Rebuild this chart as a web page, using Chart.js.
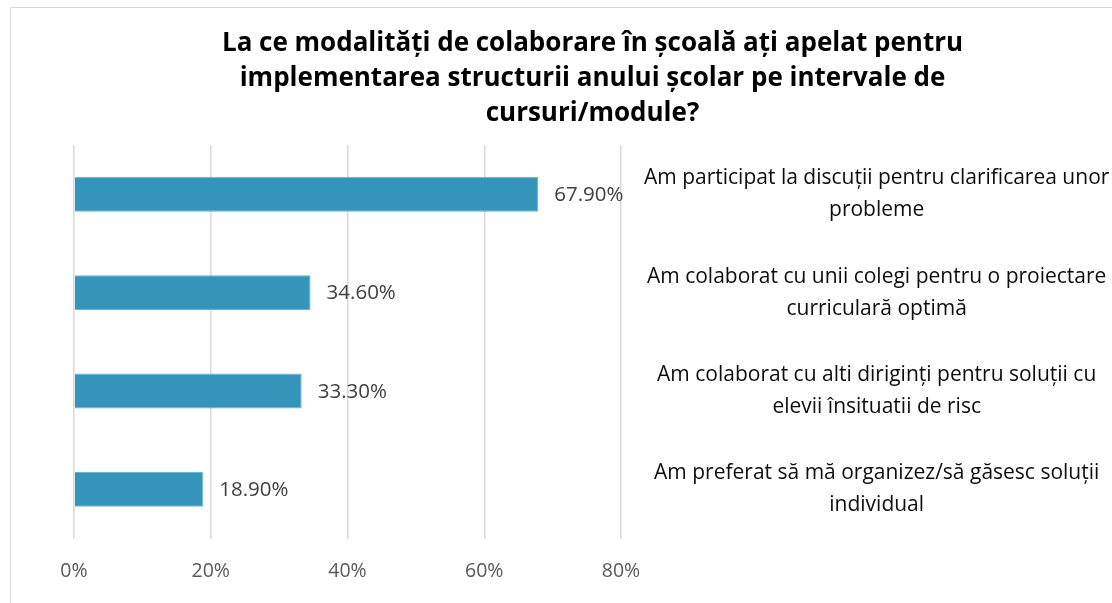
<!DOCTYPE html>
<html>
<head>
<meta charset="utf-8">
<script src="https://cdn.jsdelivr.net/npm/chart.js@4.4.1/dist/chart.umd.min.js"></script>
<style>
  html, body { margin: 0; padding: 0; background: #fff; overflow: hidden; width: 1112px; height: 603px; }
  #frame { position: absolute; left: 10px; top: 7px; width: 1200px; height: 620px; border: 1px solid #d9d9d9; box-sizing: border-box; }
  #wrap { position: absolute; left: 0; top: 0; width: 1100px; height: 596px; }
</style>
</head>
<body>
<div id="frame"><div id="wrap"><canvas id="c"></canvas></div></div>
<script>
const titleLines = [
  "La ce modalități de colaborare în școală ați apelat pentru",
  "implementarea structurii anului școlar pe intervale de",
  "cursuri/module?"
];
const categories = [
  ["Am participat la discuții pentru clarificarea unor", "probleme"],
  ["Am colaborat cu unii colegi pentru o proiectare", "curriculară optimă"],
  ["Am colaborat cu alti diriginți pentru soluții cu", "elevii însituatii de risc"],
  ["Am preferat să mă organizez/să găsesc soluții", "individual"]
];
const values = [67.9, 34.6, 33.3, 18.9];
const valueLabels = ["67.90%", "34.60%", "33.30%", "18.90%"];
const xTicks = [0, 20, 40, 60, 80];

const valueLabelPlugin = {
  id: 'valueLabels',
  afterDatasetsDraw(chart) {
    const ctx = chart.ctx;
    const meta = chart.getDatasetMeta(0);
    ctx.save();
    ctx.font = '20.5px "Open Sans"';
    ctx.fillStyle = '#404040';
    ctx.textAlign = 'left';
    ctx.textBaseline = 'middle';
    meta.data.forEach((bar, i) => {
      ctx.fillText(valueLabels[i], bar.x + 16, bar.y + 1);
    });
    ctx.restore();
  }
};

new Chart(document.getElementById('c'), {
  type: 'bar',
  data: {
    labels: categories,
    datasets: [{
      data: values,
      backgroundColor: '#3494BA',
      borderColor: '#6DB3D1',
      borderWidth: 1,
      barPercentage: 0.355,
      categoryPercentage: 1.0
    }]
  },
  options: {
    indexAxis: 'y',
    responsive: true,
    maintainAspectRatio: false,
    animation: false,
    layout: { padding: { left: 63, right: 0, top: 0, bottom: 0 } },
    plugins: {
      legend: { display: false },
      tooltip: { enabled: false },
      title: {
        display: true,
        text: titleLines,
        color: '#000000',
        font: { family: '"Open Sans"', size: 26, weight: 'bold', lineHeight: 35 / 26 },
        padding: { top: 18.5, bottom: 13.5 }
      }
    },
    scales: {
      x: {
        min: 0,
        max: 80,
        afterBuildTicks(axis) { axis.ticks = xTicks.map(v => ({ value: v })); },
        ticks: {
          color: '#595959',
          font: { family: '"Open Sans"', size: 19.5 },
          padding: 21,
          callback: v => v + '%'
        },
        grid: { color: '#d9d9d9', lineWidth: 1.5, drawTicks: false },
        border: { display: false }
      },
      y: {
        position: 'right',
        afterFit(axis) { axis.width = 490; },
        ticks: {
          color: '#0d0d0d',
          crossAlign: 'center',
          padding: 23,
          font: { family: '"Open Sans"', size: 21, lineHeight: 32 / 21 }
        },
        grid: { display: false, drawTicks: false },
        border: { display: false }
      }
    }
  },
  plugins: [valueLabelPlugin]
});
</script>
</body>
</html>
